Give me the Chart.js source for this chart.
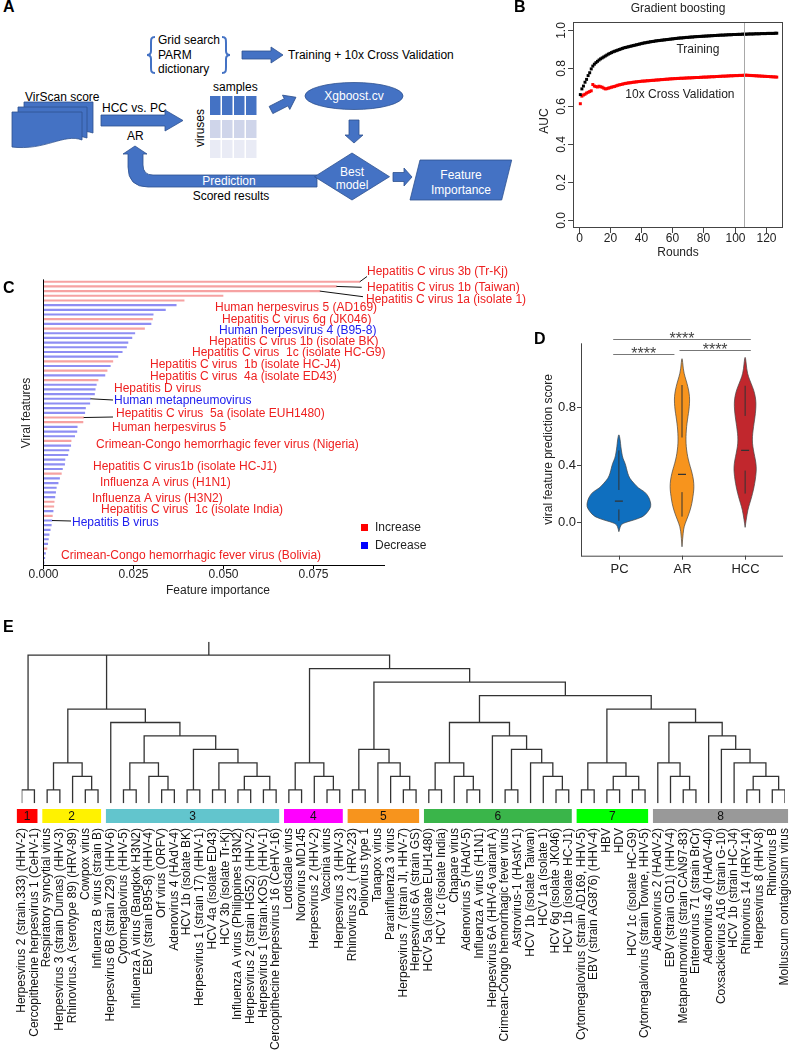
<!DOCTYPE html>
<html>
<head>
<meta charset="utf-8">
<title>Viral features figure</title>
<script src="https://cdn.jsdelivr.net/npm/chart.js@4.4.1/dist/chart.umd.min.js"></script>
<style>
  html, body { margin: 0; padding: 0; background: #fff; }
  #page { position: relative; width: 791px; height: 1050px; overflow: hidden; font-family: "Liberation Sans", Arial, sans-serif; }
  #page canvas, #page svg { position: absolute; }
  .tag { position: absolute; font-size: 16px; font-weight: bold; line-height: 16px; }
</style>
</head>
<body>
<div id="page">

<!-- panel A: workflow sketch -->
<svg width="520" height="210" style="left:0;top:0" font-family="Liberation Sans, Arial, sans-serif" font-size="12">
  <g fill="none" stroke="#4472C4" stroke-width="2">
    <path d="M155,37 C151,37 151,39 151,43 L151,51 C151,54 150,55 147,55 C150,55 151,56 151,59 L151,67 C151,71 151,73 155,73"/>
    <path d="M222,37 C226,37 226,39 226,43 L226,51 C226,54 227,55 230,55 C227,55 226,56 226,59 L226,67 C226,71 226,73 222,73"/>
  </g>
  <text x="158" y="44">Grid search</text>
  <text x="158" y="59">PARM</text>
  <text x="158" y="73">dictionary</text>
  <text x="288" y="59">Training + 10x Cross Validation</text>
  <text x="25" y="101">VirScan score</text>
  <text x="102" y="112">HCC vs. PC</text>
  <text x="127" y="140">AR</text>
  <text x="213" y="91">samples</text>
  <text transform="translate(204,128) rotate(-90)" text-anchor="middle">viruses</text>
  <text x="231" y="200" text-anchor="middle">Scored results</text>

  <g fill="#4472C4" stroke="#2F528F" stroke-width="0.8">
    <path d="M242,51 H271 V47 L283,55 L271,63 V59 H242 Z"/>
    <path d="M24,102 H93 V133 C75,127 60,139 24,136 Z"/>
    <path d="M18,107 H87 V138 C69,132 54,144 18,141 Z"/>
    <path d="M12,112 H82 V140 C64,133 45,151 12,147 Z"/>
    <path d="M101,115 H165 V110 L183,120.5 L165,131 V126 H101 Z"/>
    <path transform="translate(271,110) rotate(-27)" d="M0,-4 H17 V-8 L28,0 L17,8 V4 H0 Z"/>
    <ellipse cx="354" cy="96" rx="49" ry="13.5"/>
    <path d="M349,120 H359 V135 H363 L354,143 L345,135 H349 Z"/>
    <path d="M317,175 H153 Q143,175 143,165 V154 H147 L135,146 L123,154 H128 V167 Q128,187 148,187 H317 Z"/>
    <path d="M352,153 L389.5,176.7 L352,200 L314.5,176.7 Z"/>
    <path d="M393,172.5 H404 V168 L412,177 L404,186 V181.5 H393 Z"/>
    <path d="M420,160 L511.7,160 L501.7,200 L410,200 Z"/>
  </g>
  <g stroke="none">
    <rect x="210" y="96" width="10.5" height="19" fill="#4472C4"/>
    <rect x="222" y="96" width="10.5" height="19" fill="#4472C4"/>
    <rect x="234" y="96" width="10.5" height="19" fill="#4472C4"/>
    <rect x="246" y="96" width="10.5" height="19" fill="#4472C4"/>
    <rect x="210" y="120" width="10.5" height="18" fill="#CFD5EA"/>
    <rect x="222" y="120" width="10.5" height="18" fill="#CFD5EA"/>
    <rect x="234" y="120" width="10.5" height="18" fill="#CFD5EA"/>
    <rect x="246" y="120" width="10.5" height="18" fill="#CFD5EA"/>
    <rect x="210" y="140" width="10.5" height="18" fill="#E9EBF5"/>
    <rect x="222" y="140" width="10.5" height="18" fill="#E9EBF5"/>
    <rect x="234" y="140" width="10.5" height="18" fill="#E9EBF5"/>
    <rect x="246" y="140" width="10.5" height="18" fill="#E9EBF5"/>
  </g>
  <g fill="#fff" text-anchor="middle">
    <text x="354" y="100">Xgboost.cv</text>
    <text x="352" y="176">Best</text>
    <text x="352" y="189">model</text>
    <text x="461" y="179">Feature</text>
    <text x="461" y="194">Importance</text>
    <text x="229" y="185">Prediction</text>
  </g>
</svg>

<canvas id="chartB" width="271" height="290" style="left:520px;top:0px;width:271px;height:290px"></canvas>
<canvas id="chartC" width="580" height="340" style="left:0px;top:260px;width:580px;height:340px"></canvas>
<canvas id="chartD" width="271" height="300" style="left:520px;top:290px;width:271px;height:300px"></canvas>
<canvas id="chartE" width="791" height="430" style="left:0px;top:620px;width:791px;height:430px"></canvas>

<div class="tag" style="left:3px;top:-1px">A</div>
<div class="tag" style="left:514px;top:-1px">B</div>
<div class="tag" style="left:3px;top:280px">C</div>
<div class="tag" style="left:534px;top:331px">D</div>
<div class="tag" style="left:3px;top:619px">E</div>
</div>

<script>
// ---------- B: gradient boosting AUC by round ----------
const trainAUC = [
  0.660, 0.690, 0.705, 0.725, 0.740, 0.760, 0.775, 0.795, 0.810, 0.820,
  0.828, 0.835, 0.842, 0.848, 0.853, 0.858, 0.863, 0.868, 0.873, 0.877,
  0.881, 0.885, 0.888, 0.891, 0.894, 0.897, 0.900, 0.903, 0.906, 0.908,
  0.910, 0.912, 0.914, 0.916, 0.918, 0.920, 0.922, 0.924, 0.926, 0.928,
  0.930, 0.932, 0.933, 0.935, 0.936, 0.938, 0.939, 0.940, 0.942, 0.943,
  0.944, 0.945, 0.946, 0.947, 0.948, 0.949, 0.950, 0.951, 0.952, 0.953,
  0.954, 0.955, 0.956, 0.957, 0.958, 0.958, 0.959, 0.960, 0.961, 0.961,
  0.962, 0.963, 0.963, 0.964, 0.965, 0.965, 0.966, 0.966, 0.967, 0.967,
  0.968, 0.968, 0.969, 0.969, 0.970, 0.970, 0.971, 0.971, 0.972, 0.972,
  0.973, 0.973, 0.973, 0.974, 0.974, 0.975, 0.975, 0.975, 0.976, 0.976,
  0.976, 0.977, 0.977, 0.977, 0.978, 0.978, 0.978, 0.978, 0.979, 0.979,
  0.979, 0.979, 0.980, 0.980, 0.980, 0.980, 0.981, 0.981, 0.981, 0.981,
  0.982, 0.982, 0.982, 0.982, 0.982, 0.983, 0.983
];
const cvAUC = [
  0.612, 0.652, 0.658, 0.662, 0.668, 0.672, 0.676, 0.680, 0.713, 0.705,
  0.702, 0.700, 0.704, 0.701, 0.699, 0.694, 0.690, 0.691, 0.694, 0.696,
  0.699, 0.701, 0.703, 0.706, 0.709, 0.711, 0.713, 0.715, 0.717, 0.719,
  0.720, 0.722, 0.722, 0.724, 0.725, 0.726, 0.727, 0.728, 0.729, 0.730,
  0.731, 0.731, 0.732, 0.733, 0.733, 0.734, 0.735, 0.735, 0.736, 0.737,
  0.737, 0.738, 0.739, 0.739, 0.740, 0.741, 0.741, 0.742, 0.743, 0.743,
  0.744, 0.744, 0.745, 0.745, 0.746, 0.746, 0.746, 0.747, 0.747, 0.748,
  0.748, 0.748, 0.749, 0.749, 0.750, 0.750, 0.750, 0.751, 0.751, 0.752,
  0.752, 0.752, 0.753, 0.753, 0.754, 0.754, 0.754, 0.755, 0.755, 0.756,
  0.756, 0.757, 0.757, 0.757, 0.758, 0.758, 0.759, 0.759, 0.759, 0.760,
  0.760, 0.760, 0.761, 0.761, 0.761, 0.762, 0.762, 0.762, 0.761, 0.761,
  0.760, 0.760, 0.759, 0.759, 0.758, 0.758, 0.757, 0.757, 0.756, 0.756,
  0.755, 0.755, 0.754, 0.754, 0.753, 0.753, 0.752
];
const rounds = trainAUC.map((v, i) => i + 1);
const bestRound = 106;
const roundTicks = [0, 20, 40, 60, 80, 100, 120];
const aucTicks = [0, 0.2, 0.4, 0.6, 0.8, 1.0];
const curveNames = ['Training', '10x Cross Validation'];
const curveNameX = [76.4, 64.9];
const curveNameY = [0.895, 0.658];

// ---------- C: feature importance ----------
const importance = [
  0.0880, 0.0815, 0.0769, 0.0500, 0.0392, 0.0370, 0.0340, 0.0306, 0.0304, 0.0300,
  0.0282, 0.0255, 0.0247, 0.0236, 0.0232, 0.0220, 0.0208, 0.0194, 0.0187, 0.0178,
  0.0172, 0.0153, 0.0148, 0.0145, 0.0143, 0.0132, 0.0130, 0.0118, 0.0116, 0.0113,
  0.0111, 0.0095, 0.0094, 0.0088, 0.0078, 0.0077, 0.0072, 0.0069, 0.0061, 0.0060,
  0.0054, 0.0051, 0.0046, 0.0042, 0.0037, 0.0035, 0.0033, 0.0031, 0.0030, 0.0028,
  0.0026, 0.0025, 0.0023, 0.0020, 0.0017, 0.0015, 0.0013, 0.0011, 0.0007, 0.0005,
  0.0003
];
// 1 = increase (red), 0 = decrease (blue)
const increased = [
  1, 1, 1, 1, 1, 0, 0, 0, 1, 0,
  1, 0, 0, 0, 0, 0, 0, 1, 0, 1,
  0, 1, 0, 0, 0, 0, 0, 0, 0, 1,
  1, 0, 0, 0, 1, 0, 0, 0, 0, 0,
  0, 1, 0, 0, 0, 0, 0, 1, 1, 0,
  1, 0, 0, 0, 0, 0, 0, 1, 0, 0,
  0
];
const importanceTicks = [0, 0.025, 0.05, 0.075];
const importanceTickLabels = ['0.000', '0.025', '0.050', '0.075'];
const featureNames = [
  'Hepatitis C virus 3b (Tr-Kj)', 'Hepatitis C virus 1b (Taiwan)', 'Hepatitis C virus 1a (isolate 1)',
  'Human herpesvirus 5 (AD169)', 'Hepatitis C virus 6g (JK046)', 'Human herpesvirus 4 (B95-8)',
  'Hepatitis C virus 1b (isolate BK)', 'Hepatitis C virus  1c (isolate HC-G9)',
  'Hepatitis C virus  1b (isolate HC-J4)', 'Hepatitis C virus  4a (isolate ED43)',
  'Hepatitis D virus', 'Human metapneumovirus', 'Hepatitis C virus  5a (isolate EUH1480)',
  'Human herpesvirus 5', 'Crimean-Congo hemorrhagic fever virus (Nigeria)',
  'Hepatitis C virus1b (isolate HC-J1)', 'Influenza A virus (H1N1)', 'Influenza A virus (H3N2)',
  'Hepatitis C virus  1c (isolate India)', 'Hepatitis B virus',
  'Crimean-Congo hemorrhagic fever virus (Bolivia)'
];
const featureUp = [1, 1, 1, 1, 1, 0, 1, 1, 1, 1, 1, 0, 1, 1, 1, 1, 1, 1, 1, 0, 1];

// label placement (page pixels)
const featureLabelX = [367, 367, 366, 215, 222, 219, 209, 192, 150, 150, 114, 114, 116, 112, 96, 93, 100, 92, 101, 72, 61];
const featureLabelY = [272, 288, 300, 308, 320, 331, 342, 353, 365, 377, 389, 401, 414, 428, 445, 467, 483, 499, 510, 523, 556];
const leaderBar = [0, 1, 2, 25, 29, 51];
const leaderEndX = [367, 361.7, 363, 113, 113, 71];
const leaderEndY = [276.5, 287.3, 296.7, 400, 417, 521];

// ---------- D: prediction score violins ----------
const groups = ['PC', 'AR', 'HCC'];
const groupColors = ['#0F6FBF', '#F7941D', '#C1272D'];
const pcY = [-0.065, -0.03, -0.007, 0.016, 0.04, 0.074, 0.109, 0.144, 0.179, 0.213, 0.237, 0.271, 0.306, 0.341, 0.376, 0.41, 0.445, 0.48, 0.526, 0.573, 0.62];
const pcW = [0, 0.02, 0.05, 0.24, 0.39, 0.46, 0.51, 0.50, 0.47, 0.41, 0.31, 0.24, 0.17, 0.14, 0.12, 0.10, 0.063, 0.047, 0.031, 0.021, 0];
const arY = [-0.17, -0.053, -0.007, 0.04, 0.086, 0.132, 0.179, 0.225, 0.271, 0.318, 0.364, 0.41, 0.457, 0.503, 0.55, 0.596, 0.642, 0.689, 0.735, 0.781, 0.828, 0.874, 0.92, 0.967, 1.013, 1.06, 1.164];
const arW = [0, 0.02, 0.05, 0.094, 0.13, 0.157, 0.173, 0.188, 0.188, 0.173, 0.147, 0.115, 0.089, 0.073, 0.063, 0.063, 0.068, 0.079, 0.094, 0.11, 0.12, 0.12, 0.105, 0.079, 0.047, 0.021, 0];
const hccY = [-0.035, 0.016, 0.086, 0.132, 0.179, 0.225, 0.271, 0.318, 0.364, 0.41, 0.457, 0.503, 0.55, 0.596, 0.642, 0.689, 0.735, 0.781, 0.828, 0.874, 0.92, 0.967, 1.013, 1.06, 1.176];
const hccW = [0, 0.016, 0.042, 0.073, 0.105, 0.131, 0.152, 0.168, 0.178, 0.173, 0.152, 0.131, 0.115, 0.115, 0.126, 0.141, 0.157, 0.168, 0.173, 0.162, 0.136, 0.094, 0.052, 0.026, 0];
const scoreLow = [0.01, 0.04, 0.20];
const scoreQ1 = [0.09, 0.21, 0.36];
const scoreMedian = [0.148, 0.334, 0.50];
const scoreQ3 = [0.225, 0.59, 0.74];
const scoreHigh = [0.50, 0.955, 0.95];
const scoreTicks = [0, 0.4, 0.8];
const sigX1 = [0.91, 0.91, 1.96];
const sigX2 = [3.09, 1.88, 3.09];
const sigY = [1.273, 1.169, 1.198];
const sigText = ['****', '****', '****'];

// ---------- E: dendrogram of viral features ----------
const leafNames = [
  'Herpesvirus 2 (strain.333) (HHV-2)', 'Cercopithecine herpesvirus 1 (CeHV-1)', 'Respiratory syncytial virus',
  'Herpesvirus 3 (strain Dumas) (HHV-3)', 'Rhinovirus.A (serotype 89) (HRV-89)', 'Cowpox virus',
  'Influenza B virus (strain B)', 'Herpesvirus 6B (strain Z29) (HHV-6)', 'Cytomegalovirus (HHV-5)',
  'Influenza A virus (Bangkok H3N2)', 'EBV (strain B95-8) (HHV-4)', 'Orf virus (ORFV)',
  'Adenovirus 4 (HAdV-4)', 'HCV 1b (isolate BK)', 'Herpesvirus 1 (strain 17) (HHV-1)',
  'HCV 4a (isolate ED43)', 'HCV 3b (isolate Tr-Kj)', 'Influenza A virus (Philippines H3N2)',
  'Herpesvirus 2 (strain HG52) (HHV-2)', 'Herpesvirus 1 (strain.KOS) (HHV-1)', 'Cercopithecine herpesvirus 16 (CeHV-16)',
  'Lordsdale virus', 'Norovirus MD145', 'Herpesvirus 2 (HHV-2)', 'Vaccinia virus', 'Herpesvirus 3 (HHV-3)',
  'Rhinovirus 23  ( HRV-23)', 'Poliovirus type 1', 'Tanapox virus', 'Parainfluenza 3 virus',
  'Herpesvirus 7 (strain JI, HHV-7)', 'Herpesvirus 6A (strain GS)',
  'HCV 5a (isolate EUH1480)', 'HCV 1c (isolate India)', 'Chapare virus', 'Adenovirus 5 (HAdV-5)',
  'Influenza A virus (H1N1)', 'Herpesvirus 6A (HHV-6 variant A)', 'Crimean-Congo hemorrhagic fever virus',
  'Astrovirus-1 (HAstV-1)', 'HCV 1b (isolate Taiwan)', 'HCV 1a (isolate 1)', 'HCV 6g (isolate JK046)',
  'HCV 1b (isolate HC-J1)', 'Cytomegalovirus (strain AD169, HHV-5)', 'EBV (strain AG876) (HHV-4)',
  'HBV', 'HDV', 'HCV 1c (isolate HC-G9)', 'Cytomegalovirus (strain Towne, HHV-5)',
  'Adenovirus 2 (HAdV-2)', 'EBV (strain GD1) (HHV-4)', 'Metapneumovirus (strain CAN97-83)',
  'Enterovirus 71 (strain BrCr)', 'Adenovirus 40 (HAdV-40)', 'Coxsackievirus A16 (strain G-10)',
  'HCV 1b (strain HC-J4)', 'Rhinovirus 14 (HRV-14)', 'Herpesvirus 8 (HHV-8)', 'Rhinovirus B',
  'Molluscum contagiosum virus'
];
// negative = leaf number, positive = earlier node number
const nodeKids = [
  [-1, -2], [-3, -4], [-6, -7], [-5, 3], [2, 4],
  [-9, -10], [-12, -13], [-11, 7], [6, 8], [-14, -15], [-16, -17], [-18, -19], [-20, -21],
  [12, 13], [11, 14], [10, 15], [9, 16], [-8, 17], [5, 18],
  [-22, -23], [-25, -26], [-24, 21], [20, 22],
  [-27, -28], [-31, -32], [-30, 25], [-29, 26], [24, 27],
  [-33, -34], [-36, -37], [-35, 30], [29, 31], [-39, -40], [-43, -44], [-42, 34], [-41, 35],
  [33, 36], [-38, 37], [32, 38],
  [-45, -46], [-47, -48], [-49, -50], [41, 42], [40, 43],
  [-53, -54], [-52, 45], [-51, 46], [-58, -59], [-60, -61], [48, 49], [-57, 50], [-56, 51],
  [-55, 52], [47, 53],
  [44, 54], [39, 55], [28, 56], [23, 57], [1, 19, 58]
];
const nodeLevel = [
  1, 1, 1, 2, 3,
  1, 1, 2, 3, 1, 1, 1, 1, 2, 3, 4, 5, 6, 7,
  1, 1, 2, 3,
  1, 1, 2, 3, 4,
  1, 1, 2, 3, 1, 1, 2, 3, 4, 5, 6,
  1, 1, 1, 2, 3,
  1, 2, 3, 1, 1, 2, 3, 4, 5, 6,
  7, 8, 9, 10, 11
];
const clusterStart = [1, 3, 8, 22, 27, 33, 45, 51];
const clusterEnd = [2, 7, 21, 26, 32, 44, 50, 61];
const clusterNames = ['1', '2', '3', '4', '5', '6', '7', '8'];
const clusterColors = ['#FF0000', '#FFF200', '#62C5CD', '#FF00FF', '#F7941D', '#3AB54A', '#00FF00', '#999999'];

// ---------- helpers ----------
const FONT = '"Liberation Sans", Arial, sans-serif';
function font(px, weight) { return (weight ? weight + ' ' : '') + px + 'px ' + FONT; }
function seg(ctx, x1, y1, x2, y2) { ctx.beginPath(); ctx.moveTo(x1, y1); ctx.lineTo(x2, y2); ctx.stroke(); }
function text(ctx, s, x, y, align, rot) {
  ctx.save();
  ctx.translate(x, y);
  if (rot) ctx.rotate(rot);
  ctx.textAlign = align || 'center';
  ctx.textBaseline = 'middle';
  ctx.fillText(s, 0, 0);
  ctx.restore();
}
function baseOptions(pad, xs, ys) {
  return {
    responsive: false, animation: false, events: [],
    layout: { padding: pad },
    plugins: { legend: { display: false }, tooltip: { enabled: false } },
    scales: { x: Object.assign({ display: false }, xs), y: Object.assign({ display: false }, ys) }
  };
}

// ---------- chart B ----------
const frameB = {
  id: 'frameB',
  afterDatasetsDraw(chart) {
    const { ctx, chartArea: a, scales: { x, y } } = chart;
    ctx.save();
    ctx.lineWidth = 1;
    ctx.strokeStyle = '#a8a8a8';
    const bx = Math.round(x.getPixelForValue(bestRound)) + 0.5;
    seg(ctx, bx, a.top, bx, a.bottom);
    ctx.strokeStyle = '#444';
    ctx.strokeRect(a.left + 0.5, a.top + 0.5, a.width - 1, a.height - 1);
    ctx.fillStyle = '#222';
    ctx.font = font(12);
    roundTicks.forEach(v => {
      const px = Math.round(x.getPixelForValue(v)) + 0.5;
      seg(ctx, px, a.bottom, px, a.bottom + 5);
      text(ctx, String(v), px, a.bottom + 11);
    });
    aucTicks.forEach(v => {
      const py = Math.round(y.getPixelForValue(v)) + 0.5;
      seg(ctx, a.left - 5, py, a.left, py);
      text(ctx, v.toFixed(1), a.left - 11, py, 'center', -Math.PI / 2);
    });
    text(ctx, 'Gradient boosting', (a.left + a.right) / 2, 9);
    text(ctx, 'Rounds', (a.left + a.right) / 2, 253);
    text(ctx, 'AUC', 25, 121, 'center', -Math.PI / 2);
    curveNames.forEach((s, i) => text(ctx, s, x.getPixelForValue(curveNameX[i]), y.getPixelForValue(curveNameY[i])));
    ctx.restore();
  }
};

new Chart(document.getElementById('chartB'), {
  type: 'scatter',
  data: {
    datasets: [
      { data: rounds.map((r, i) => ({ x: r, y: trainAUC[i] })), pointStyle: 'rect', pointRadius: 2.1, backgroundColor: '#000', borderWidth: 0 },
      { data: rounds.map((r, i) => ({ x: r, y: cvAUC[i] })), pointStyle: 'rect', pointRadius: 2.1, backgroundColor: '#FF0000', borderWidth: 0 }
    ]
  },
  options: baseOptions({ left: 53, right: 8, top: 22, bottom: 62 },
    { type: 'linear', min: -3.7, max: 131 }, { type: 'linear', min: -0.042, max: 1.042 }),
  plugins: [frameB]
});

// ---------- chart C ----------
const C_TOP = 260;
const frameC = {
  id: 'frameC',
  afterDraw(chart) {
    const { ctx, chartArea: a, scales: { x, y } } = chart;
    ctx.save();
    ctx.strokeStyle = '#000';
    ctx.lineWidth = 1;
    seg(ctx, a.left + 0.5, a.top, a.left + 0.5, a.bottom + 0.5);
    seg(ctx, a.left, a.bottom + 0.5, a.right, a.bottom + 0.5);
    ctx.fillStyle = '#222';
    ctx.font = font(12);
    importanceTicks.forEach((v, i) => {
      const px = Math.round(x.getPixelForValue(v)) + 0.5;
      seg(ctx, px, a.bottom, px, a.bottom + 4);
      text(ctx, importanceTickLabels[i], px, a.bottom + 10);
    });
    text(ctx, 'Feature importance', 218, 591 - C_TOP);
    text(ctx, 'Viral features', 26.7, 413 - C_TOP, 'center', -Math.PI / 2);

    // leader lines from bar ends to their labels
    ctx.strokeStyle = '#111';
    leaderBar.forEach((b, i) => {
      seg(ctx, x.getPixelForValue(importance[b]), y.getPixelForValue(b), leaderEndX[i], leaderEndY[i] - C_TOP);
    });
    featureNames.forEach((s, i) => {
      ctx.fillStyle = featureUp[i] ? '#EE2020' : '#2020EE';
      text(ctx, s, featureLabelX[i], featureLabelY[i] - C_TOP, 'left');
    });

    // legend
    ctx.fillStyle = '#FF0000';
    ctx.fillRect(361, 524 - C_TOP, 7, 7);
    ctx.fillStyle = '#0000FF';
    ctx.fillRect(361, 542 - C_TOP, 7, 7);
    ctx.fillStyle = '#222';
    text(ctx, 'Increase', 375, 528 - C_TOP, 'left');
    text(ctx, 'Decrease', 375, 546 - C_TOP, 'left');
    ctx.restore();
  }
};

new Chart(document.getElementById('chartC'), {
  type: 'bar',
  data: {
    labels: importance.map((v, i) => 'feature ' + (i + 1)),
    datasets: [{
      data: importance,
      backgroundColor: increased.map(u => u ? '#F6A2A2' : '#8E8EF3'),
      borderWidth: 0,
      barThickness: 1.5
    }]
  },
  options: Object.assign(baseOptions({ left: 43, right: 195, top: 279.4 - C_TOP, bottom: 340 - (565 - C_TOP) },
    { type: 'linear', min: 0, max: 0.095 }, { type: 'category', offset: true }), { indexAxis: 'y' }),
  plugins: [frameC]
});

// ---------- chart D ----------
const violinY = [pcY, arY, hccY];
const violinW = [pcW, arW, hccW];
function smoothClosed(ctx, pts) {
  ctx.beginPath();
  ctx.moveTo(pts[0].x, pts[0].y);
  for (let i = 1; i < pts.length - 1; i++) {
    const mx = (pts[i].x + pts[i + 1].x) / 2, my = (pts[i].y + pts[i + 1].y) / 2;
    ctx.quadraticCurveTo(pts[i].x, pts[i].y, mx, my);
  }
  ctx.lineTo(pts[pts.length - 1].x, pts[pts.length - 1].y);
  ctx.closePath();
}
const frameD = {
  id: 'frameD',
  beforeDatasetsDraw(chart) {
    const { ctx, scales: { x, y } } = chart;
    ctx.save();
    groups.forEach((g, gi) => {
      const c = gi + 1;
      const ys = violinY[gi], ws = violinW[gi];
      const right = ys.map((v, k) => ({ x: x.getPixelForValue(c + ws[k]), y: y.getPixelForValue(v) }));
      const left = ys.map((v, k) => ({ x: x.getPixelForValue(c - ws[k]), y: y.getPixelForValue(v) })).reverse();
      smoothClosed(ctx, right.concat(left.slice(1)));
      ctx.fillStyle = groupColors[gi];
      ctx.fill();
      ctx.strokeStyle = '#444';
      ctx.lineWidth = 0.7;
      ctx.stroke();
      const px = x.getPixelForValue(c);
      ctx.strokeStyle = '#333';
      ctx.lineWidth = 1;
      seg(ctx, px, y.getPixelForValue(scoreLow[gi]), px, y.getPixelForValue(scoreQ1[gi]));
      seg(ctx, px, y.getPixelForValue(scoreQ3[gi]), px, y.getPixelForValue(scoreHigh[gi]));
    });
    ctx.restore();
  },
  afterDraw(chart) {
    const { ctx, chartArea: a, scales: { x, y } } = chart;
    ctx.save();
    ctx.strokeStyle = '#444';
    ctx.lineWidth = 1;
    seg(ctx, a.left + 0.5, a.top, a.left + 0.5, a.bottom + 0.5);
    seg(ctx, a.left, a.bottom + 0.5, a.right, a.bottom + 0.5);
    ctx.fillStyle = '#222';
    ctx.font = font(13);
    scoreTicks.forEach(v => {
      const py = Math.round(y.getPixelForValue(v)) + 0.5;
      seg(ctx, a.left - 4, py, a.left, py);
      text(ctx, v.toFixed(1), a.left - 5, py, 'right');
    });
    groups.forEach((g, gi) => {
      const px = Math.round(x.getPixelForValue(gi + 1)) + 0.5;
      seg(ctx, px, a.bottom, px, a.bottom + 4);
      text(ctx, g, px, a.bottom + 14);
    });
    ctx.font = font(12);
    text(ctx, 'viral feature prediction score', 29, (a.top + a.bottom) / 2, 'center', -Math.PI / 2);
    // significance bars
    ctx.strokeStyle = '#777';
    ctx.font = font(16);
    sigText.forEach((s, i) => {
      const py = Math.round(y.getPixelForValue(sigY[i])) + 0.5;
      const x1 = x.getPixelForValue(sigX1[i]), x2 = x.getPixelForValue(sigX2[i]);
      seg(ctx, x1, py, x2, py);
      ctx.fillStyle = '#444';
      ctx.textAlign = 'center';
      ctx.textBaseline = 'alphabetic';
      ctx.fillText(s, (x1 + x2) / 2, py + 4);
    });
    ctx.restore();
  }
};

new Chart(document.getElementById('chartD'), {
  type: 'scatter',
  data: {
    datasets: [{
      data: scoreMedian.map((m, i) => ({ x: i + 1, y: m })),
      pointStyle: 'line', pointRadius: 4, borderColor: '#333', borderWidth: 1.2
    }]
  },
  options: baseOptions({ left: 61, right: 8, top: 53.3, bottom: 34.3 },
    { type: 'linear', min: 0.4, max: 3.6 }, { type: 'linear', min: -0.232, max: 1.245 }),
  plugins: [frameD]
});

// ---------- chart E ----------
const nodeX = [];
const treePts = [];
function kidPos(k) { return k < 0 ? { x: -k, y: 0 } : { x: nodeX[k - 1], y: nodeLevel[k - 1] }; }
nodeKids.forEach((kids, i) => {
  const pts = kids.map(kidPos);
  const lvl = nodeLevel[i];
  const first = pts[0], last = pts[pts.length - 1];
  nodeX.push((first.x + last.x) / 2);
  treePts.push({ x: first.x, y: first.y }, { x: first.x, y: lvl }, { x: last.x, y: lvl }, { x: last.x, y: last.y }, { x: NaN, y: null });
  pts.slice(1, -1).forEach(p => treePts.push({ x: p.x, y: p.y }, { x: p.x, y: lvl }, { x: NaN, y: null }));
});
const rootX = nodeX[nodeX.length - 1];
treePts.push({ x: rootX, y: nodeLevel[nodeLevel.length - 1] }, { x: rootX, y: nodeLevel[nodeLevel.length - 1] + 1 });

const E_TOP = 620;
const frameE = {
  id: 'frameE',
  afterDraw(chart) {
    const { ctx, scales: { x } } = chart;
    ctx.save();
    ctx.font = font(12);
    clusterNames.forEach((n, i) => {
      const x0 = x.getPixelForValue(clusterStart[i] - 0.38);
      const x1 = x.getPixelForValue(clusterEnd[i] + 0.24);
      ctx.fillStyle = clusterColors[i];
      ctx.fillRect(x0, 809 - E_TOP, x1 - x0, 14);
      ctx.fillStyle = '#111';
      text(ctx, n, (x0 + x1) / 2, 816.5 - E_TOP);
    });
    ctx.fillStyle = '#111';
    leafNames.forEach((s, i) => {
      text(ctx, s, x.getPixelForValue(i + 1), 828 - E_TOP, 'right', -Math.PI / 2);
    });
    ctx.restore();
  }
};

new Chart(document.getElementById('chartE'), {
  type: 'line',
  data: {
    datasets: [{
      data: treePts, borderColor: '#333', borderWidth: 1.3,
      pointRadius: 0, spanGaps: false, tension: 0, fill: false
    }]
  },
  options: baseOptions({ left: 21.7, right: 6, top: 641.7 - E_TOP, bottom: 430 - (803.3 - E_TOP) },
    { type: 'linear', min: 1, max: 61 }, { type: 'linear', min: 0, max: 12 }),
  plugins: [frameE]
});
</script>
</body>
</html>
